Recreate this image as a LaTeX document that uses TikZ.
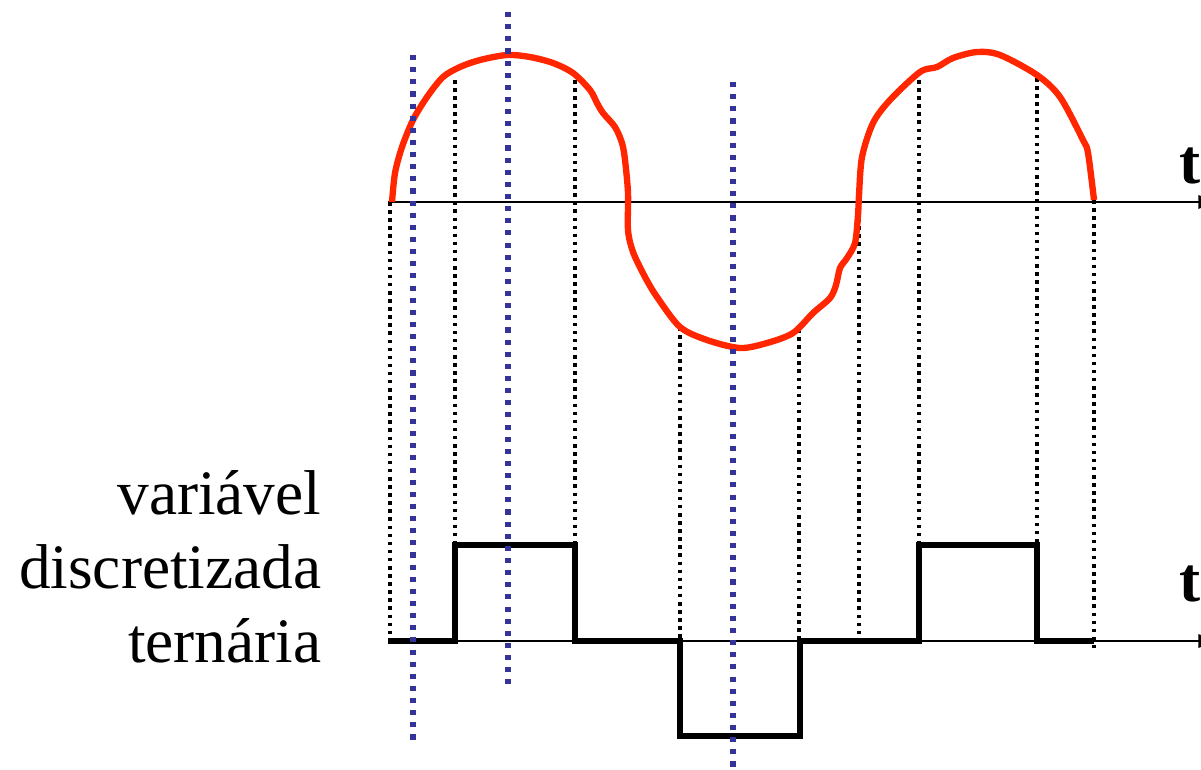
\documentclass[tikz,border=0pt]{standalone}
\usepackage{fontspec}
\setmainfont{Liberation Serif}
\usetikzlibrary{arrows.meta}
\definecolor{sinalred}{RGB}{255,38,0}
\definecolor{amostrablue}{RGB}{51,51,153}

\begin{document}
\begin{tikzpicture}[x=0.01cm,y=-0.01cm,
	eixo/.style={line width=0.6pt,-{Latex[length=7pt,width=4pt]}},
	guia/.style={line width=1pt,dash pattern=on 1pt off 1.3pt},
	amostra/.style={amostrablue,line width=1.45pt,dash pattern=on 1.45pt off 2pt},
	sinal/.style={sinalred,line width=1.8pt,line join=round},
	degrau/.style={line width=1.6pt,line join=miter}]

	\useasboundingbox (0,0) rectangle (1201,769);

	% eixos
	\coordinate (o1) at (388,202);
	\coordinate (f1) at (1223,202);
	\coordinate (o2) at (388,641);
	\coordinate (f2) at (1223,641);
	\draw[eixo] (o1) -- (f1);
	\draw[eixo] (o2) -- (f2);

	\node[anchor=base west,inner sep=0,font=\fontsize{18}{21}\selectfont\bfseries] (t1) at (1179,183) {t};
	\node[anchor=base west,inner sep=0,font=\fontsize{18}{21}\selectfont\bfseries] (t2) at (1179,601) {t};

	\node[anchor=north east,inner sep=0,align=right,font=\fontsize{18}{21}\selectfont] (rotulo) at (322,470)
		{variável\\discretizada\\ternária};

	% linhas de projecao
	\draw[guia] (390,202) -- (390,641);
	\draw[guia] (455,80) -- (455,641);
	\draw[guia] (575,80) -- (575,641);
	\draw[guia] (680,327) -- (680,641);
	\draw[guia] (799,329) -- (799,641);
	\draw[guia] (859,202) -- (859,641);
	\draw[guia] (919,80) -- (919,641);
	\draw[guia] (1037,78) -- (1037,641);
	\draw[guia] (1094,200) -- (1094,648);

	% variavel continua
	\draw[sinal] plot[smooth] coordinates {(392,202) (395,173) (402,147) (413,120) (427,97)
		(443,77) (460,67) (480,60) (507,55) (530,57) (553,63) (573,73) (590,90) (597,103)
		(603,113) (615,127) (622,143) (625,160) (628,193) (628,230) (633,252) (645,277)
		(657,297) (680,327) (707,340) (740,348) (767,343) (793,333) (813,313) (830,298)
		(836,285) (840,268) (847,258) (855,243) (858,215) (859,195) (862,157) (873,123)
		(890,100) (920,72) (937,67) (953,58) (977,52) (1000,55) (1037,75) (1060,97)
		(1083,140) (1088,153) (1094,200)};

	% variavel discretizada
	\draw[degrau] (388,641) -- (455,641) -- (455,545) -- (575,545) -- (575,641)
		-- (680,641) -- (680,736) -- (800,736) -- (800,641) -- (919,641)
		-- (919,545) -- (1037,545) -- (1037,641) -- (1094,641);

	% instantes de amostragem
	\draw[amostra] (413,55) -- (413,742);
	\draw[amostra] (508,12) -- (508,690);
	\draw[amostra] (733,82) -- (733,769);

\end{tikzpicture}
\end{document}
